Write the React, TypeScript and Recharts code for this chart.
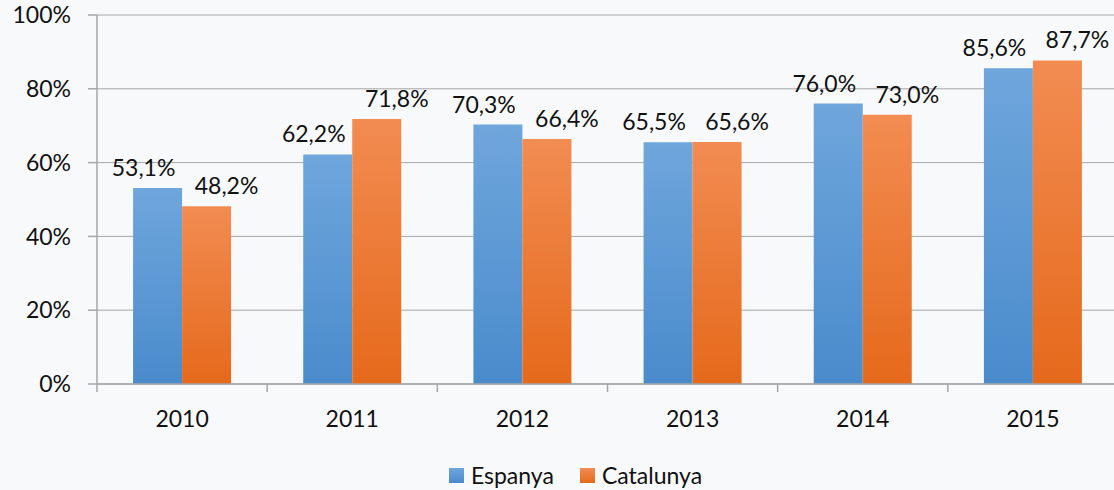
import { BarChart, Bar, XAxis, YAxis, CartesianGrid, Legend, LabelList } from 'recharts';

const years = ['2010', '2011', '2012', '2013', '2014', '2015'];
const espanya = [53.1, 62.2, 70.3, 65.5, 76.0, 85.6];
const catalunya = [48.2, 71.8, 66.4, 65.6, 73.0, 87.7];
const yTicks = [0, 20, 40, 60, 80, 100];

const chartData = years.map((year, i) => ({
  year,
  espanya: espanya[i],
  catalunya: catalunya[i],
}));

const FONT = 'Lato, "Open Sans", sans-serif';
const AXIS = '#a6a6a6';
const BG = '#f8f9fb';

if (typeof document !== 'undefined') {
  document.body.style.margin = '0';
  document.body.style.background = BG;
}

const fmt = (v: number) => `${v.toFixed(1).replace('.', ',')}%`;

function YearTick(props: any) {
  const { x, y, payload, index } = props;
  const half = payload.offset ?? 1021 / 12;
  return (
    <g>
      <line x1={x - half} x2={x - half} y1={y} y2={y + 8} stroke={AXIS} strokeWidth={1.5} />
      {index === years.length - 1 && (
        <line x1={x + half} x2={x + half} y1={y} y2={y + 8} stroke={AXIS} strokeWidth={1.5} />
      )}
      <text x={x} y={y + 43} textAnchor="middle" fontSize={23} fontFamily={FONT} fill="#111">
        {payload.value}
      </text>
    </g>
  );
}

// labels of the two series are nudged apart so they don't collide
function makeLabel(dx: number) {
  return (props: any) => {
    const { x, y, width, value } = props;
    return (
      <text
        x={Number(x) + Number(width) / 2 + dx}
        y={Number(y) - 12}
        textAnchor="middle"
        fontSize={23}
        fontFamily={FONT}
        fill="#111"
      >
        {fmt(Number(value))}
      </text>
    );
  };
}

function LegendBox() {
  const items = [
    { name: 'Espanya', from: '#6fa6dc', to: '#4a8bcc' },
    { name: 'Catalunya', from: '#f28c52', to: '#e5691b' },
  ];
  return (
    <div
      style={{
        height: 56,
        display: 'flex',
        justifyContent: 'center',
        alignItems: 'flex-end',
        paddingLeft: 33,
        paddingBottom: 4,
        boxSizing: 'border-box',
        fontFamily: FONT,
        fontSize: 23,
        color: '#111',
      }}
    >
      {items.map((it, i) => (
        <div key={it.name} style={{ display: 'flex', alignItems: 'center', height: 22, marginLeft: i ? 26 : 0 }}>
          <span
            style={{
              width: 15,
              height: 15,
              marginRight: 7,
              background: `linear-gradient(${it.from}, ${it.to})`,
              display: 'inline-block',
            }}
          />
          <span>{it.name}</span>
        </div>
      ))}
    </div>
  );
}

export default function App() {
  return (
    <div style={{ width: 1114, height: 490, background: BG, overflow: 'hidden' }}>
      <BarChart
        width={1118}
        height={490}
        data={chartData}
        margin={{ top: 15, right: 0, left: 0, bottom: 0 }}
        barCategoryGap="21.2%"
        barGap={0}
      >
        <defs>
          <linearGradient id="espGrad" x1="0" y1="0" x2="0" y2="1">
            <stop offset="0%" stopColor="#6fa6dc" />
            <stop offset="100%" stopColor="#4a8bcc" />
          </linearGradient>
          <linearGradient id="catGrad" x1="0" y1="0" x2="0" y2="1">
            <stop offset="0%" stopColor="#f28c52" />
            <stop offset="100%" stopColor="#e5691b" />
          </linearGradient>
        </defs>
        <CartesianGrid vertical={false} stroke={AXIS} strokeWidth={1} />
        <XAxis
          dataKey="year"
          height={50}
          tickSize={0}
          tickMargin={0}
          tickLine={false}
          axisLine={{ stroke: AXIS, strokeWidth: 1.5 }}
          tick={<YearTick />}
          interval={0}
        />
        <YAxis
          width={97}
          domain={[0, 100]}
          ticks={yTicks}
          tickFormatter={(v: number) => `${v}%`}
          tickSize={9}
          tickMargin={17}
          tickLine={{ stroke: AXIS, strokeWidth: 1.5 }}
          axisLine={{ stroke: AXIS, strokeWidth: 1.5 }}
          tick={{ fontSize: 23, fontFamily: FONT, fill: '#111' }}
          allowDataOverflow
        />
        <Legend verticalAlign="bottom" height={56} content={<LegendBox />} />
        <Bar dataKey="espanya" name="Espanya" fill="url(#espGrad)" isAnimationActive={false}>
          <LabelList dataKey="espanya" content={makeLabel(-14)} />
        </Bar>
        <Bar dataKey="catalunya" name="Catalunya" fill="url(#catGrad)" isAnimationActive={false}>
          <LabelList dataKey="catalunya" content={makeLabel(20)} />
        </Bar>
      </BarChart>
    </div>
  );
}
